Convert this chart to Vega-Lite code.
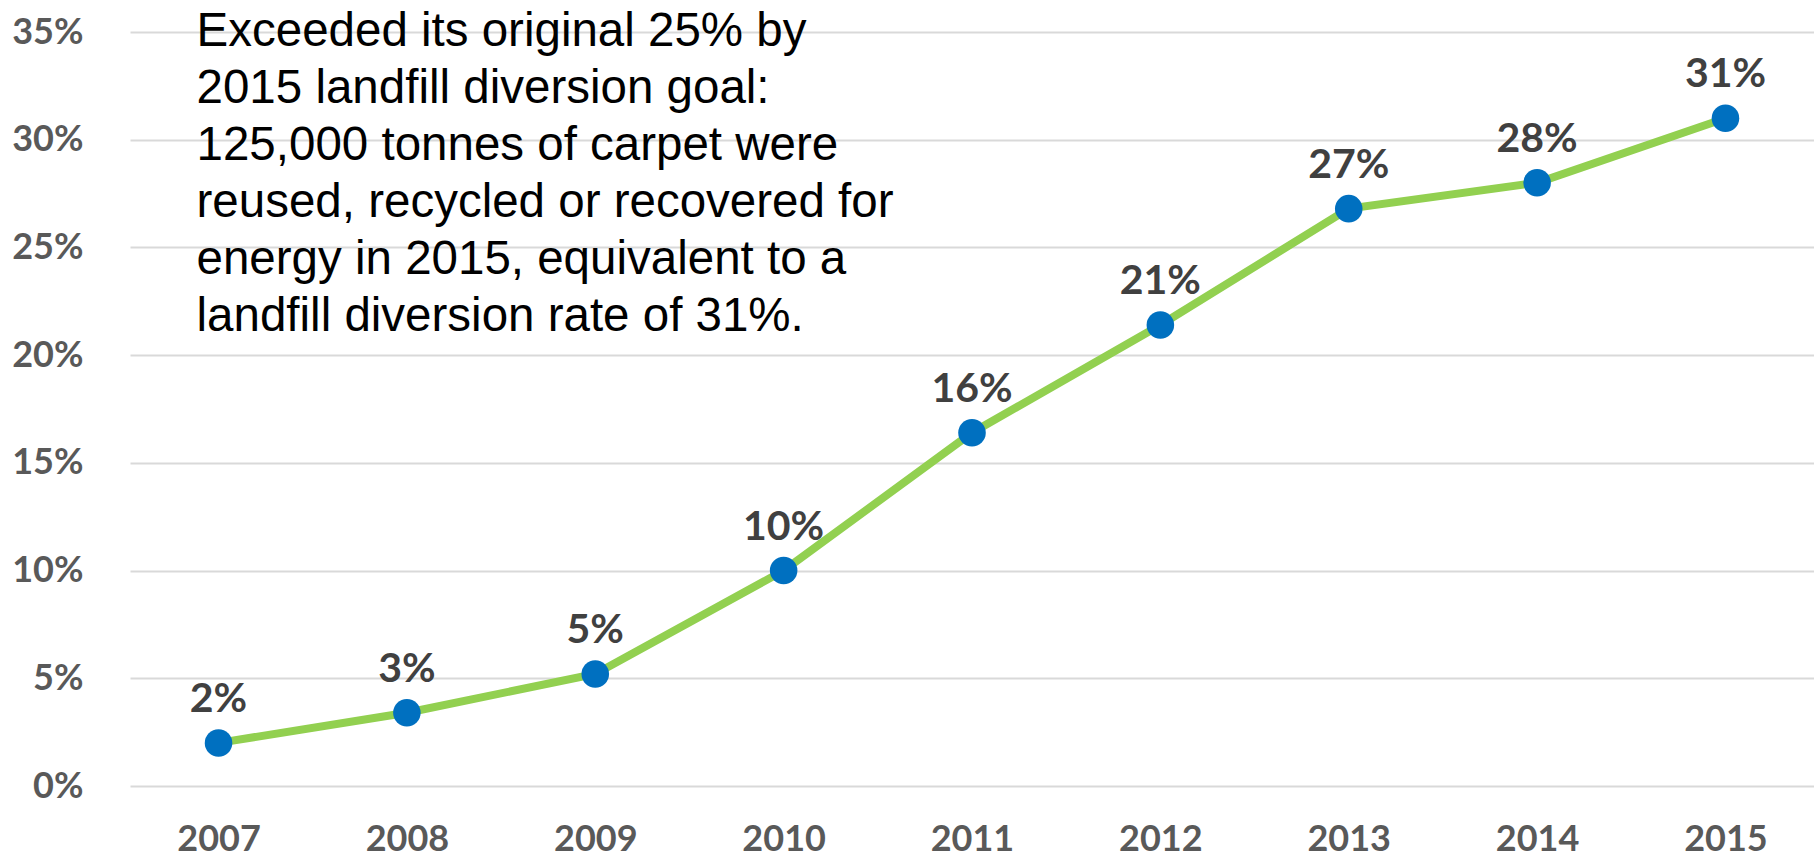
{
  "$schema": "https://vega.github.io/schema/vega-lite/v6.json",
  "autosize": "none",
  "width": 1684,
  "height": 754,
  "padding": {"left": 130, "top": 32, "right": 0, "bottom": 72},
  "background": "white",
  "config": {"view": {"stroke": null}},
  "datasets": {
    "rates": [
      {"year": "2007", "rate": 0.020},
      {"year": "2008", "rate": 0.034},
      {"year": "2009", "rate": 0.052},
      {"year": "2010", "rate": 0.100},
      {"year": "2011", "rate": 0.164},
      {"year": "2012", "rate": 0.214},
      {"year": "2013", "rate": 0.268},
      {"year": "2014", "rate": 0.280},
      {"year": "2015", "rate": 0.310}
    ],
    "note": [
      {"year": "2007", "pos": 0.3435, "lines": ["Exceeded its original 25% by", "2015 landfill diversion goal:", "125,000 tonnes of carpet were", "reused, recycled or recovered for", "energy in 2015, equivalent to a", "landfill diversion rate of 31%."]}
    ]
  },
  "layer": [
    {
      "data": {"name": "rates"},
      "mark": {"type": "line", "color": "#92D050", "strokeWidth": 8},
      "encoding": {
        "x": {
          "field": "year", "type": "ordinal",
          "scale": {"type": "point", "padding": 0.47},
          "axis": {"title": null, "labelAngle": 0, "ticks": false, "tickSize": 0, "domain": false, "grid": false,
                   "labelFont": "Lato", "labelFontWeight": "bold", "labelFontSize": 36, "labelColor": "#595959", "labelPadding": 36}
        },
        "y": {
          "field": "rate", "type": "quantitative",
          "scale": {"domain": [0, 0.35], "nice": false},
          "axis": {"title": null, "format": ".0%", "values": [0, 0.05, 0.1, 0.15, 0.2, 0.25, 0.3, 0.35],
                   "ticks": false, "tickSize": 0, "domain": false, "grid": true, "gridColor": "#d9d9d9", "gridWidth": 2,
                   "labelFont": "Lato", "labelFontWeight": "bold", "labelFontSize": 36, "labelColor": "#595959", "labelPadding": 47}
        }
      }
    },
    {
      "data": {"name": "rates"},
      "mark": {"type": "point", "filled": true, "opacity": 1, "size": 760, "color": "#0070C0"},
      "encoding": {
        "x": {"field": "year", "type": "ordinal"},
        "y": {"field": "rate", "type": "quantitative"}
      }
    },
    {
      "data": {"name": "rates"},
      "mark": {"type": "text", "font": "Lato", "fontWeight": "bold", "fontSize": 41, "color": "#404040", "baseline": "alphabetic", "dy": -31},
      "encoding": {
        "x": {"field": "year", "type": "ordinal"},
        "y": {"field": "rate", "type": "quantitative"},
        "text": {"field": "rate", "type": "quantitative", "format": ".0%"}
      }
    },
    {
      "data": {"name": "note"},
      "mark": {"type": "text", "font": "Liberation Sans", "fontSize": 47.5, "lineHeight": 57, "color": "#000000", "align": "left", "baseline": "alphabetic", "dx": -22},
      "encoding": {
        "x": {"field": "year", "type": "ordinal"},
        "y": {"field": "pos", "type": "quantitative"},
        "text": {"field": "lines", "type": "nominal"}
      }
    }
  ]
}
